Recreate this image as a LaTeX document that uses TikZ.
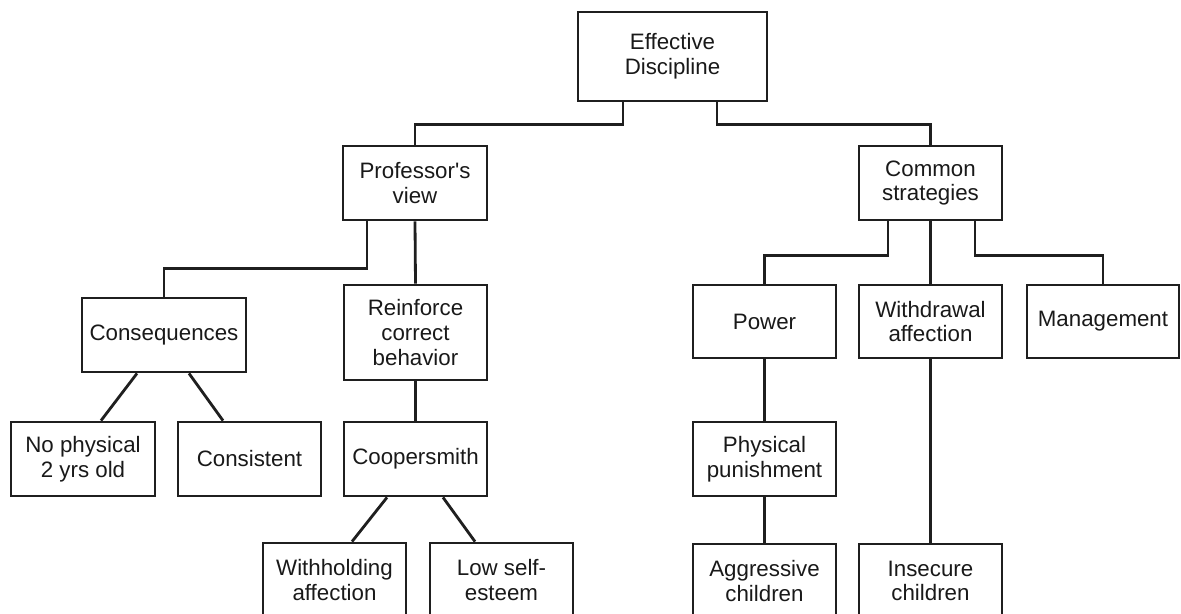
\documentclass[tikz,border=0pt]{standalone}
\usepackage{fontspec}
\setmainfont{Liberation Sans}
\begin{document}
\begin{tikzpicture}[x=0.02cm,y=-0.02cm,
  box/.style={draw=black!88,line width=1.6pt,align=center,inner sep=1pt,
    font=\fontsize{12.7}{14}\selectfont,text=black!90},
  conn/.style={draw=black!88,line width=1.6pt}]
\useasboundingbox (0,0) rectangle (1181,613);
\clip (0,0) rectangle (1181,613);
% level 0
\node[box,minimum width=3.78cm,minimum height=1.78cm] (ed) at (672.5,56.5) {Effective\\Discipline};
% level 1
\node[box,minimum width=2.88cm,minimum height=1.48cm] (prof) at (415,183) {Professor\textquotesingle s\\view};
\node[box,minimum width=2.86cm,minimum height=1.48cm] (cs) at (930.5,183) {Common\\strategies};
% level 2
\node[box,minimum width=3.28cm,minimum height=1.48cm] (cons) at (164,335) {Consequences};
\node[box,minimum width=2.86cm,minimum height=1.9cm] (reinf) at (415.5,332.5) {Reinforce\\correct\\behavior};
\node[box,minimum width=2.86cm,minimum height=1.46cm] (power) at (764.5,321.5) {Power};
\node[box,minimum width=2.86cm,minimum height=1.46cm] (withd) at (930.5,321.5) {Withdrawal\\affection};
\node[box,minimum width=3.04cm,minimum height=1.46cm] (mgmt) at (1103,321.5) {Management};
% level 3
\node[box,minimum width=2.88cm,minimum height=1.48cm] (nophys) at (83,459) {No physical\\2 yrs old};
\node[box,minimum width=2.86cm,minimum height=1.48cm] (consist) at (249.5,459) {Consistent};
\node[box,minimum width=2.86cm,minimum height=1.48cm] (coop) at (415.5,459) {Coopersmith};
\node[box,minimum width=2.86cm,minimum height=1.48cm] (phys) at (764.5,459) {Physical\\punishment};
% level 4
\node[box,minimum width=2.86cm,minimum height=1.48cm] (withh) at (334.5,580) {Withholding\\affection};
\node[box,minimum width=2.86cm,minimum height=1.48cm] (lowse) at (501.5,580) {Low self-\\esteem};
\node[box,minimum width=2.86cm,minimum height=1.48cm] (aggr) at (764.5,581) {Aggressive\\children};
\node[box,minimum width=2.86cm,minimum height=1.48cm] (insec) at (930.5,581) {Insecure\\children};
% connectors
\draw[conn] ([xshift=-0.99cm]ed.south) -- ++(0,22) -| (prof.north);
\draw[conn] ([xshift=0.89cm]ed.south) -- ++(0,22) -| (cs.north);
\draw[conn] ([xshift=-0.96cm]prof.south) -- ++(0,47) -| (cons.north);
\draw[conn] (prof.south) -- (reinf.north);
\draw[conn] ([xshift=-0.54cm]cons.south) -- ([xshift=0.36cm]nophys.north);
\draw[conn] ([xshift=0.5cm]cons.south) -- ([xshift=-0.53cm]consist.north);
\draw[conn] (reinf.south) -- (coop.north);
\draw[conn] ([xshift=-0.57cm]coop.south) -- ([xshift=0.35cm]withh.north);
\draw[conn] ([xshift=0.55cm]coop.south) -- ([xshift=-0.53cm]lowse.north);
\draw[conn] ([xshift=-0.85cm]cs.south) -- ++(0,34) -| (power.north);
\draw[conn] (cs.south) -- (withd.north);
\draw[conn] ([xshift=0.89cm]cs.south) -- ++(0,34) -| (mgmt.north);
\draw[conn] (power.south) -- (phys.north);
\draw[conn] (phys.south) -- (aggr.north);
\draw[conn] (withd.south) -- (insec.north);
\end{tikzpicture}
\end{document}
